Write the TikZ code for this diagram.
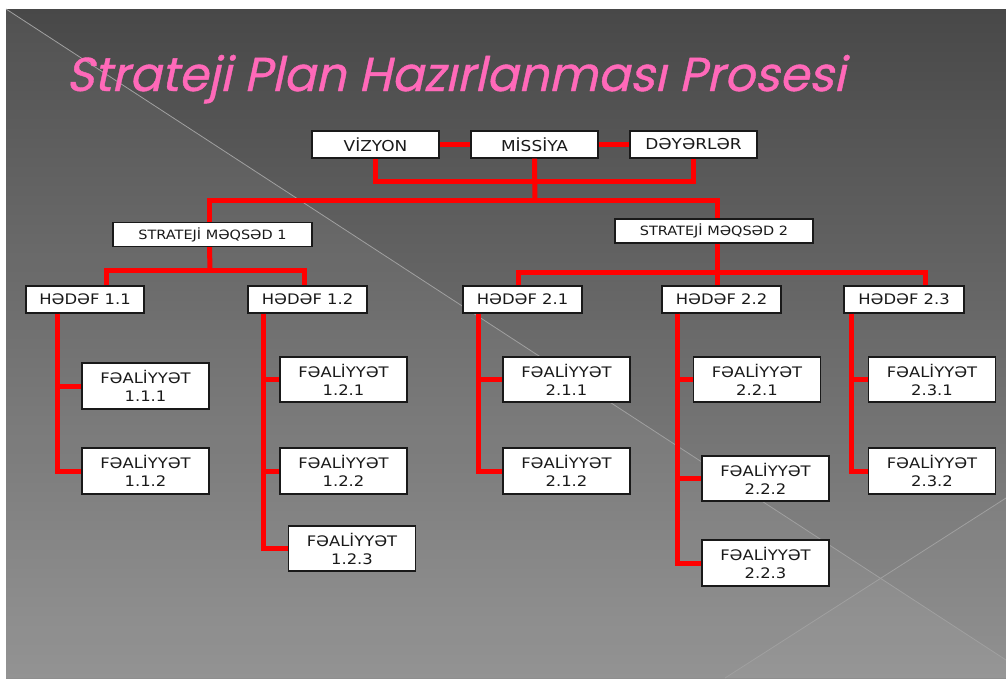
\documentclass[tikz,border=0pt]{standalone}
\usepackage{fontspec}
\newfontfamily\boxfont[FakeStretch=1.13]{DejaVu Sans}
\newfontfamily\titlefont[FakeSlant=0.22,FakeBold=0.8]{Poppins}
\definecolor{titlepink}{RGB}{255,105,185}
\definecolor{bgtop}{RGB}{72,72,72}
\definecolor{bgbot}{RGB}{142,142,142}
\definecolor{diag}{RGB}{160,160,160}
\definecolor{boxline}{RGB}{25,25,25}
\tikzset{
  box/.style={draw=boxline, line width=1.2pt, fill=white, inner sep=0pt, align=center, text=black!90, font=\boxfont\fontsize{14.5}{18}\selectfont},
  topbox/.style={box, minimum width=127pt, minimum height=27pt, font=\boxfont\fontsize{15}{18}\selectfont},
  goalbox/.style={box, minimum height=24pt, font=\boxfont\fontsize{12.8}{15}\selectfont},
  targetbox/.style={box, minimum width=119pt, minimum height=27pt},
  actbox/.style={box, minimum width=127pt, minimum height=46pt},
  conn/.style={draw=red, line width=5pt, line join=miter},
}
\begin{document}
\begin{tikzpicture}[x=1pt,y=-1pt]
\useasboundingbox (0,0) rectangle (1006,678);
\fill[white] (0,0) rectangle (1006,678);
\shade[top color=bgtop, bottom color=bgbot] (6,9) rectangle (1006,678);
\fill[white, opacity=0.05] (6,9) -- (1006,660) -- (1006,678) -- (6,678) -- cycle;
\fill[white, opacity=0.03] (725,678) -- (1006,498) -- (1006,678) -- cycle;
\draw[diag, line width=0.8pt] (6,9) -- (1006,660);
\draw[diag, line width=0.8pt] (725,678) -- (1006,498);

\node[anchor=base west, text=titlepink, font=\titlefont\fontsize{47.5}{52}\selectfont, inner sep=0pt] (title) at (66,91) {Strateji Plan Hazırlanması Prosesi};

% top row
\node[topbox] (viz) at (375.5,144.5) {VİZYON};
\node[topbox] (mis) at (534.5,144.5) {MİSSİYA};
\node[topbox] (dey) at (693.5,144.5) {DƏYƏRLƏR};
% strategic goals
\node[goalbox, minimum width=199pt] (sm1) at (212.5,234.5) {STRATEJİ MƏQSƏD 1};
\node[goalbox, minimum width=198pt] (sm2) at (714,231) {STRATEJİ MƏQSƏD 2};
% targets
\node[targetbox, minimum width=118pt] (h11) at (85,299.5) {HƏDƏF 1.1};
\node[targetbox] (h12) at (307.5,299.5) {HƏDƏF 1.2};
\node[targetbox] (h21) at (522.5,299.5) {HƏDƏF 2.1};
\node[targetbox] (h22) at (721.5,299.5) {HƏDƏF 2.2};
\node[targetbox, minimum width=120pt] (h23) at (904,299.5) {HƏDƏF 2.3};
% activities
\node[actbox] (f111) at (145.5,386) {FƏALİYYƏT\\1.1.1};
\node[actbox] (f112) at (145.5,471) {FƏALİYYƏT\\1.1.2};
\node[actbox, minimum height=45pt] (f121) at (343.5,379.5) {FƏALİYYƏT\\1.2.1};
\node[actbox] (f122) at (343.5,471) {FƏALİYYƏT\\1.2.2};
\node[actbox, minimum height=45pt] (f123) at (352,548.5) {FƏALİYYƏT\\1.2.3};
\node[actbox, minimum height=45pt] (f211) at (566.5,379.5) {FƏALİYYƏT\\2.1.1};
\node[actbox] (f212) at (566.5,471) {FƏALİYYƏT\\2.1.2};
\node[actbox, minimum height=45pt] (f221) at (757,379.5) {FƏALİYYƏT\\2.2.1};
\node[actbox, minimum height=45pt] (f222) at (765.5,478.5) {FƏALİYYƏT\\2.2.2};
\node[actbox] (f223) at (765.5,563) {FƏALİYYƏT\\2.2.3};
\node[actbox, minimum height=45pt] (f231) at (932,379.5) {FƏALİYYƏT\\2.3.1};
\node[actbox] (f232) at (932,471) {FƏALİYYƏT\\2.3.2};

\coordinate (t) at (535,200);
\coordinate (u1) at (210,270);
\coordinate (u2) at (717,272);

% top connectors
\draw[conn] (viz.east) -- (mis.west);
\draw[conn] (mis.east) -- (dey.west);
\draw[conn] (viz.south) -- ++(0,23) -| (dey.south);
\draw[conn] (mis.south) -- (t);
\draw[conn] ([xshift=-3pt]sm1.north) |- (t) -| ([xshift=3pt]sm2.north);
% goal 1
\draw[conn] ([xshift=-3pt]sm1.south) -- (u1);
\draw[conn] ([xshift=21pt]h11.north) |- (u1) -| ([xshift=-3pt]h12.north);
% goal 2
\draw[conn] ([xshift=3pt]sm2.south) -- ([xshift=3pt]sm2.south |- h22.north);
\draw[conn] ([xshift=-4pt]h21.north) |- (u2) -| ([xshift=21pt]h23.north);
% activities
\draw[conn] ([xshift=32pt]h11.south west) |- (f111.west);
\draw[conn] ([xshift=32pt]h11.south west) |- (f112.west);
\draw[conn] ([xshift=16pt]h12.south west) |- (f121.west);
\draw[conn] ([xshift=16pt]h12.south west) |- (f122.west);
\draw[conn] ([xshift=16pt]h12.south west) |- (f123.west);
\draw[conn] ([xshift=16pt]h21.south west) |- (f211.west);
\draw[conn] ([xshift=16pt]h21.south west) |- (f212.west);
\draw[conn] ([xshift=16pt]h22.south west) |- (f221.west);
\draw[conn] ([xshift=16pt]h22.south west) |- (f222.west);
\draw[conn] ([xshift=16pt]h22.south west) |- (f223.west);
\draw[conn] ([xshift=8pt]h23.south west) |- (f231.west);
\draw[conn] ([xshift=8pt]h23.south west) |- (f232.west);
\end{tikzpicture}
\end{document}
